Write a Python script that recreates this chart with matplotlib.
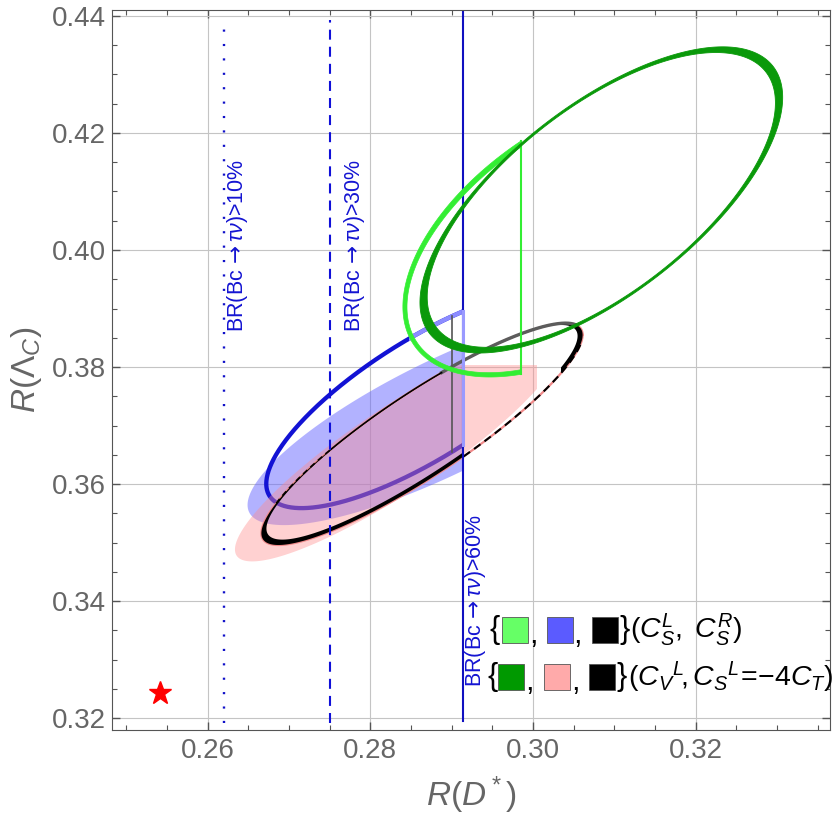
import numpy as np
import matplotlib
matplotlib.use("Agg")
import matplotlib.pyplot as plt
from matplotlib.patches import Rectangle, PathPatch
from matplotlib.path import Path
from matplotlib.ticker import MultipleLocator

plt.rcParams['font.family'] = ['Liberation Sans', 'DejaVu Sans']
plt.rcParams['mathtext.fontset'] = 'custom'
plt.rcParams['mathtext.rm'] = 'Liberation Sans'
plt.rcParams['mathtext.it'] = 'Liberation Sans:italic'
plt.rcParams['mathtext.bf'] = 'Liberation Sans:bold'
plt.rcParams['mathtext.sf'] = 'DejaVu Sans'

# allowed regions, each one as: centre x, half width x, centre y, half height y, phase
green_dark = [0.3084, 0.0223, 0.40855, 0.02615, 0.837]
green_light = [0.3060, 0.0220, 0.4030, 0.0247, 1.031]
blue_ring = [0.2867, 0.0195, 0.3746, 0.0187, 0.680]
blue_fill = [0.2890, 0.0241, 0.3715, 0.0185, 0.620]
pink_fill = [0.28335, 0.0200, 0.3660, 0.0192, 0.465]
black_ring = [0.28635, 0.01975, 0.36855, 0.01895, 0.465]

# BR(Bc -> tau nu) limits on R(D*)
br_x = [0.2620, 0.2750, 0.2914]
br_labels = ['10%', '30%', '60%']
green_cut = 0.2985
black_cut = 0.2901
pink_top = 0.3803
pink_right = 0.3005
sm_point = [0.2541, 0.3243]

xlim = (0.2482, 0.3365)
ylim = (0.318, 0.441)
xticks = [0.26, 0.28, 0.30, 0.32]
yticks = [0.32, 0.34, 0.36, 0.38, 0.40, 0.42, 0.44]

t = np.linspace(0, 2 * np.pi, 721)
# pixels per data unit, used to thin the rings along their own axes
sx = 718 / (xlim[1] - xlim[0])
sy = 720 / (ylim[1] - ylim[0])


def curve(p, tt=t, kmaj=1.0, kmin=1.0, dy=0.0):
    cx, rx, cy, ry, ph = p
    m = np.array([[rx * sx, 0.0], [ry * np.cos(ph) * sy, ry * np.sin(ph) * sy]])
    u, sv, vt = np.linalg.svd(m)
    m = u @ np.diag(sv * [kmaj, kmin]) @ vt
    pts = m @ np.vstack([np.cos(tt), np.sin(tt)])
    return cx + pts[0] / sx, cy + dy + pts[1] / sy


def y_at(p, x):
    cx, rx, cy, ry, ph = p
    a = np.arccos((x - cx) / rx)
    return cy + ry * np.cos(-a - ph), cy + ry * np.cos(a - ph)


def ring(p, kmaj, kmin, dy=0.0, **kw):
    x1, y1 = curve(p)
    x2, y2 = curve(p, kmaj=kmaj, kmin=kmin, dy=dy)
    verts = np.concatenate([np.c_[x1, y1], np.c_[x2, y2][::-1]])
    n = len(t)
    codes = [Path.MOVETO] + [Path.LINETO] * (n - 1) + [Path.MOVETO] + [Path.LINETO] * (n - 1)
    patch = PathPatch(Path(verts, codes), **kw)
    ax.add_patch(patch)
    return patch


def clip(artists, x0, x1, y0, y1):
    if not isinstance(artists, list):
        artists = [artists]
    for a in artists:
        a.set_clip_path(Rectangle((x0, y0), x1 - x0, y1 - y0, transform=ax.transData))


fig = plt.figure(figsize=(8.34, 8.16), dpi=100)
ax = fig.add_axes([0.134, 0.1054, 0.861, 0.8824])

# blue region
xs, ys = curve(blue_fill)
p = ax.fill(xs, ys, color=(0.4, 0.4, 1.0), alpha=0.5, lw=0, zorder=1)
clip(p, 0.2, br_x[2], 0.3, 0.5)

xs, ys = curve(blue_ring)
l = ax.plot(xs, ys, color='#1212d4', lw=3.1, zorder=2)
clip(l, 0.2, br_x[2], 0.3, 0.5)
l = ax.plot(xs, ys, color='#8c8cff', lw=3.1, zorder=2.05)
clip(l, 0.2848, br_x[2], 0.383, 0.5)

# pink region
xs, ys = curve(pink_fill)
p = ax.fill(xs, ys, color=(1.0, 0.55, 0.55), alpha=0.40, lw=0, zorder=2.2)
clip(p, 0.2, pink_right, 0.3, pink_top)

# black ring
xs, ys = curve(black_ring)
ax.plot(xs, ys, color='#f08a8a', lw=1.6, zorder=2.3)
r = ring(black_ring, 0.969, 0.95, 0.0003, facecolor='black', edgecolor='none', zorder=2.4)
clip(r, 0.2, br_x[2], 0.3, 0.5)
r = ring(black_ring, 0.969, 0.95, 0.0003, facecolor='black', edgecolor='none', zorder=2.4)
clip(r, 0.3035, 0.4, 0.3, 0.5)
xs, ys = black_ring[0] + black_ring[1] * np.cos(t), black_ring[2] + black_ring[3] * np.cos(t - black_ring[4])
seg = (t > 0.3) & (t < 1.45)
ax.plot(xs[seg], ys[seg], color='#5c5c5c', lw=2.4, zorder=2.45)
seg = (t > 1.44) & (t < 2.18)
ax.plot(xs[seg], ys[seg], color='black', lw=1.1, zorder=2.45)
seg = (t > 2.18) & (t < 2.73)
ax.plot(xs[seg], ys[seg], color='black', lw=1.2, dashes=(3.5, 2.5), zorder=2.45)
seg = (t > 2 * np.pi - 1.31) & (t < 2 * np.pi - 0.12)
ax.plot(xs[seg], ys[seg], color='black', lw=1.5, dashes=(3.8, 2.4), zorder=2.45)

# BR lines
ax.plot([br_x[0]] * 2, [0.3192, 0.4392], color='#1010c8', lw=1.7, dashes=(0.9, 5.2), zorder=2.5)
ax.plot([br_x[1]] * 2, [0.3192, 0.4392], color='#1010d8', lw=1.5, dashes=(4.8, 3.4), zorder=2.5)
ax.plot([br_x[2]] * 2, [0.3195, 0.441], color='#1010c0', lw=1.5, zorder=2.5)

lo, hi = y_at(blue_ring, br_x[2])
ax.plot([br_x[2]] * 2, [lo, hi], color='#9a9aff', lw=2.2, zorder=2.6)
lo, hi = y_at(blue_ring, black_cut)
ax.plot([black_cut] * 2, [lo, hi], color='#555555', lw=1.2, zorder=2.6)

# green rings
r = ring(green_light, 0.98, 0.955, facecolor='#33ee33', edgecolor='#33ee33', lw=0.5, zorder=3)
clip(r, 0.2, green_cut, 0.3, 0.5)
lo, hi = y_at(green_light, green_cut)
ax.plot([green_cut] * 2, [lo, hi], color='#33ee33', lw=1.5, zorder=3)

ring(green_dark, 0.958, 0.978, facecolor='#0a990a', edgecolor='#0a990a', lw=0.6, zorder=3.2)

ax.plot(sm_point[0], sm_point[1], marker='*', color='red', markersize=17, ls='none', zorder=4)

# rotated labels next to the BR lines
br_text = 'BR(Bc$\\,\\mathsf{\\rightarrow}\\tau\\nu$)>'
br_text_pos = [(0.2637, 0.38598), (0.2781, 0.38598), (0.29288, 0.3253)]
for (x, y), lab in zip(br_text_pos, br_labels):
    ax.text(x, y, br_text + lab, rotation=90, color='#1414d2',
            fontsize=15.5, ha='center', va='bottom', zorder=5)

# legend made of coloured squares
rows = [
    (0.1389, 0.1208, 0.5265, [0.5432, 0.6058, 0.6685], ['#66ff66', '#5b5bff', '#000000'],
     0.7075, 0.7214, r'$(C_S^L,\ C_S^R)$'),
    (0.0736, 0.0556, 0.5237, [0.5376, 0.6017, 0.6643], ['#009900', '#ffaaaa', '#000000'],
     0.7033, 0.7187, r'$(C_V{}^L\!,C_S{}^L\!{=}\!{-}4C_T)$'),
]
for yc, yb, xb, boxes, cols, xe, xl, lab in rows:
    ax.text(xb, yc, '{', transform=ax.transAxes, fontsize=22, ha='left', va='center', zorder=6)
    for i, (x0, c) in enumerate(zip(boxes, cols)):
        ax.add_patch(Rectangle((x0, yb), 0.0362, 0.0355, transform=ax.transAxes, facecolor=c,
                               edgecolor='#555555', lw=0.6, zorder=6, clip_on=False))
        if i < 2:
            ax.text(x0 + 0.0375, yb, ',', transform=ax.transAxes, fontsize=22, ha='left',
                    va='baseline', zorder=6)
    ax.text(xe, yc, '}', transform=ax.transAxes, fontsize=22, ha='left', va='center', zorder=6)
    ax.text(xl, yc, lab, transform=ax.transAxes, fontsize=20.5, ha='left', va='center', zorder=6,
            clip_on=False)

ax.set_xlim(*xlim)
ax.set_ylim(*ylim)
ax.set_xticks(xticks)
ax.set_yticks(yticks)
ax.set_xticklabels(['%.2f' % v for v in xticks])
ax.set_yticklabels(['%.2f' % v for v in yticks])
ax.xaxis.set_minor_locator(MultipleLocator(0.005))
ax.yaxis.set_minor_locator(MultipleLocator(0.005))
ax.tick_params(which='both', direction='in', top=True, right=True, color='#555555')
ax.tick_params(which='major', length=6, width=1, labelsize=20, labelcolor='#666666')
ax.tick_params(which='minor', length=3.5, width=0.8)
ax.tick_params(axis='x', pad=6)
ax.tick_params(axis='y', pad=4)
for s in ax.spines.values():
    s.set_color('#555555')
ax.grid(True, which='major', color='#c4c4c4', lw=0.8)
ax.set_axisbelow(True)

ax.set_xlabel(r'$R(D^*)$', fontsize=24, color='#666666')
ax.set_ylabel(r'$R(\mathit{\Lambda}_C)$', fontsize=24, color='#666666')
ax.xaxis.set_label_coords(0.5, -0.062)
ax.yaxis.set_label_coords(-0.095, 0.5)

fig.savefig('out.png', dpi=100)
